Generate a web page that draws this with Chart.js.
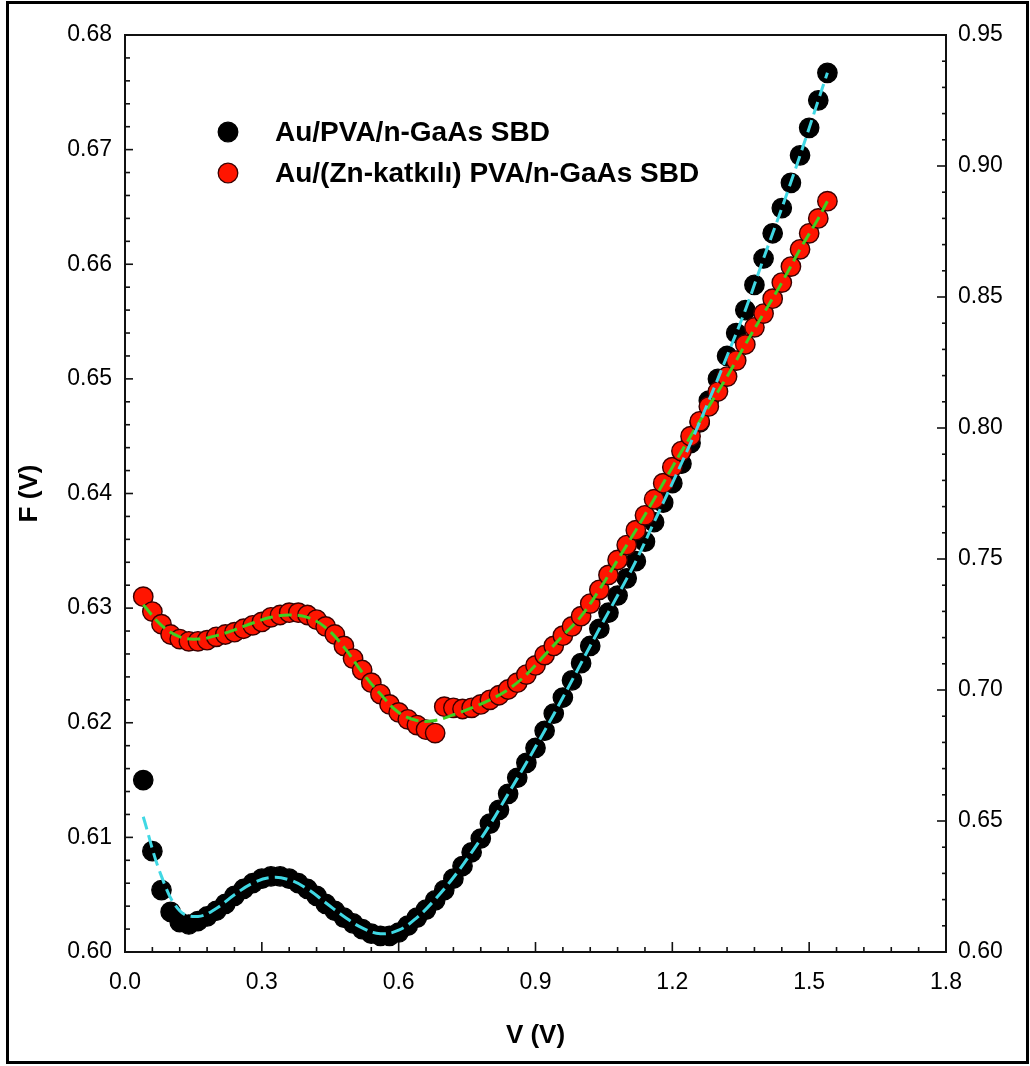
<!DOCTYPE html>
<html>
<head>
<meta charset="utf-8">
<script src="https://cdn.jsdelivr.net/npm/chart.js@4/dist/chart.umd.min.js"></script>
<style>
html,body{margin:0;padding:0;background:#fff;}
#wrap{position:relative;width:1030px;height:1066px;}
#frame{position:absolute;left:6px;top:1px;width:1023px;height:1063px;box-sizing:border-box;border:3px solid #000;pointer-events:none;}
canvas{display:block;}
</style>
</head>
<body>
<div id="wrap">
<canvas id="c" width="1030" height="1066"></canvas>
<div id="frame"></div>
</div>
<script>
// ---- Data ----
const voltage = [0.04,0.06,0.08,0.10,0.12,0.14,0.16,0.18,0.20,0.22,
  0.24,0.26,0.28,0.30,0.32,0.34,0.36,0.38,0.40,0.42,
  0.44,0.46,0.48,0.50,0.52,0.54,0.56,0.58,0.60,0.62,
  0.64,0.66,0.68,0.70,0.72,0.74,0.76,0.78,0.80,0.82,
  0.84,0.86,0.88,0.90,0.92,0.94,0.96,0.98,1.00,1.02,
  1.04,1.06,1.08,1.10,1.12,1.14,1.16,1.18,1.20,1.22,
  1.24,1.26,1.28,1.30,1.32,1.34,1.36,1.38,1.40,1.42,
  1.44,1.46,1.48,1.50,1.52,1.54];

const fPVA = [0.6150,0.6088,0.6054,0.6035,0.6026,0.6024,0.6027,0.6031,0.6036,0.6042,
  0.6049,0.6055,0.6060,0.6064,0.6066,0.6066,0.6064,0.6060,0.6055,0.6049,
  0.6042,0.6036,0.6030,0.6025,0.6020,0.6016,0.6014,0.6014,0.6017,0.6023,
  0.6030,0.6037,0.6045,0.6054,0.6064,0.6075,0.6087,0.6099,0.6112,0.6124,
  0.6138,0.6152,0.6165,0.6178,0.6193,0.6208,0.6222,0.6237,0.6252,0.6267,
  0.6282,0.6296,0.6311,0.6326,0.6341,0.6358,0.6375,0.6392,0.6409,0.6426,
  0.6444,0.6462,0.6481,0.6500,0.6520,0.6540,0.6560,0.6582,0.6605,0.6627,
  0.6649,0.6671,0.6695,0.6719,0.6743,0.6767];

const fZnPVA = [0.6310,0.6297,0.6286,0.6277,0.6273,0.6271,0.6271,0.6272,0.6275,0.6277,
  0.6279,0.6282,0.6285,0.6288,0.6292,0.6294,0.6296,0.6296,0.6294,0.6290,
  0.6284,0.6277,0.6267,0.6256,0.6246,0.6235,0.6225,0.6216,0.6209,0.6203,
  0.6198,0.6194,0.6191,0.6214,0.6213,0.6212,0.6213,0.6216,0.6220,0.6224,
  0.6229,0.6235,0.6242,0.6250,0.6259,0.6267,0.6276,0.6284,0.6293,0.6304,
  0.6316,0.6329,0.6342,0.6355,0.6368,0.6381,0.6395,0.6409,0.6423,0.6437,
  0.6450,0.6463,0.6476,0.6489,0.6502,0.6516,0.6530,0.6545,0.6557,0.6570,
  0.6584,0.6598,0.6613,0.6627,0.6640,0.6655];

const fitVoltage = [0.04,0.08,0.12,0.16,0.20,0.24,0.28,0.32,0.36,0.40,
  0.44,0.48,0.52,0.56,0.60,0.64,0.68,0.72,0.76,0.80,
  0.84,0.88,0.92,0.96,1.00,1.04,1.08,1.12,1.16,1.20,
  1.24,1.28,1.32,1.36,1.40,1.44,1.48,1.52,1.54];

const fitPVA = [0.6118,0.6066,0.6036,0.6031,0.6038,0.6050,0.6060,0.6065,0.6063,0.6055,
  0.6043,0.6031,0.6021,0.6016,0.6019,0.6030,0.6046,0.6065,0.6087,0.6111,
  0.6138,0.6165,0.6193,0.6222,0.6252,0.6282,0.6311,0.6341,0.6375,0.6409,
  0.6444,0.6481,0.6520,0.6560,0.6605,0.6649,0.6695,0.6743,0.6767];

const fitZnPVA = [0.6303,0.6285,0.6275,0.6273,0.6276,0.6281,0.6287,0.6292,0.6294,0.6292,
  0.6283,0.6266,0.6244,0.6225,0.6209,0.6202,0.6202,0.6207,0.6213,0.6220,
  0.6229,0.6242,0.6259,0.6276,0.6293,0.6316,0.6342,0.6368,0.6395,0.6423,
  0.6450,0.6476,0.6502,0.6530,0.6557,0.6584,0.6613,0.6640,0.6655];

const xTicks = [0.0,0.3,0.6,0.9,1.2,1.5,1.8];
const yLeftTicks = [0.60,0.61,0.62,0.63,0.64,0.65,0.66,0.67,0.68];
const yRightTicks = [0.60,0.65,0.70,0.75,0.80,0.85,0.90,0.95];
const seriesNames = ['Au/PVA/n-GaAs SBD','Au/(Zn-katkılı) PVA/n-GaAs SBD'];

// ---- Build ----
const FONT = '"Liberation Sans", Arial, Helvetica, sans-serif';
Chart.defaults.font.family = FONT;
Chart.defaults.color = '#000';

const pts = (xs, ys) => xs.map((v, i) => ({x: v, y: ys[i]}));

const frameTicks = {
  id: 'frameTicks',
  afterDraw(chart) {
    const {ctx, chartArea: a, scales} = chart;
    ctx.save();
    ctx.strokeStyle = '#111';
    ctx.lineWidth = 2;
    ctx.strokeRect(a.left, a.top, a.right - a.left, a.bottom - a.top);
    ctx.lineWidth = 1.6;
    const xs = scales.x;
    for (let i = 0; i <= 30; i++) {
      const px = xs.getPixelForValue(xs.min + i * 0.06);
      const len = (i % 5 === 0) ? 10 : 5;
      ctx.beginPath(); ctx.moveTo(px, a.bottom); ctx.lineTo(px, a.bottom - len); ctx.stroke();
    }
    const yl = scales.y;
    for (let i = 0; i <= 40; i++) {
      const py = yl.getPixelForValue(yl.min + i * 0.002);
      const len = (i % 5 === 0) ? 8 : 5;
      ctx.beginPath(); ctx.moveTo(a.left, py); ctx.lineTo(a.left + len, py); ctx.stroke();
    }
    const yr = scales.y2;
    for (let i = 0; i <= 35; i++) {
      const py = yr.getPixelForValue(yr.min + i * 0.01);
      const len = (i % 5 === 0) ? 9 : 4;
      ctx.beginPath(); ctx.moveTo(a.right, py); ctx.lineTo(a.right - len, py); ctx.stroke();
    }
    // legend
    const items = [
      {name: seriesNames[0], fill: '#000', stroke: '#000', y: a.top + 97},
      {name: seriesNames[1], fill: '#ff1500', stroke: '#3a0000', y: a.top + 138}
    ];
    ctx.font = 'bold 28px ' + FONT;
    ctx.textBaseline = 'middle';
    ctx.textAlign = 'left';
    items.forEach(it => {
      ctx.beginPath();
      ctx.arc(a.left + 103, it.y, 9.8, 0, Math.PI * 2);
      ctx.fillStyle = it.fill; ctx.fill();
      ctx.lineWidth = 1.3; ctx.strokeStyle = it.stroke; ctx.stroke();
      ctx.fillStyle = '#000';
      ctx.fillText(it.name, a.left + 150, it.y + 1);
    });
    ctx.restore();
  }
};

new Chart(document.getElementById('c'), {
  type: 'scatter',
  data: {
    datasets: [
      {
        label: 'fit1', data: pts(fitVoltage, fitPVA), showLine: true, pointRadius: 0,
        borderColor: '#40d8e4', borderWidth: 3, borderDash: [13, 6], tension: 0.4,
        fill: false, order: 0, yAxisID: 'y'
      },
      {
        label: 'fit2', data: pts(fitVoltage, fitZnPVA), showLine: true, pointRadius: 0,
        borderColor: '#3fcf22', borderWidth: 3, borderDash: [13, 6], tension: 0.4,
        fill: false, order: 0, yAxisID: 'y'
      },
      {
        label: seriesNames[1], data: pts(voltage, fZnPVA), pointRadius: 9.7,
        pointBackgroundColor: '#ff1500', pointBorderColor: '#3a0000', pointBorderWidth: 1.4,
        order: 1, yAxisID: 'y'
      },
      {
        label: seriesNames[0], data: pts(voltage, fPVA), pointRadius: 9.7,
        pointBackgroundColor: '#000', pointBorderColor: '#000', pointBorderWidth: 1.3,
        order: 2, yAxisID: 'y'
      }
    ]
  },
  options: {
    responsive: false,
    animation: false,
    devicePixelRatio: 1,
    layout: {padding: {top: 35, left: 0, right: 0, bottom: 0}},
    plugins: {legend: {display: false}, tooltip: {enabled: false}},
    scales: {
      x: {
        type: 'linear', position: 'bottom', min: 0, max: 1.8,
        afterFit: s => { s.height = 114; },
        afterBuildTicks: s => { s.ticks = xTicks.map(v => ({value: v})); },
        grid: {display: false, drawTicks: false}, border: {display: false},
        ticks: {autoSkip: false, maxRotation: 0, padding: 17, font: {size: 23},
          callback: v => Number(v).toFixed(1)},
        title: {display: true, text: 'V (V)', font: {size: 26, weight: 'bold'}, padding: {top: 0, bottom: 15}}
      },
      y: {
        type: 'linear', position: 'left', min: 0.60, max: 0.68,
        afterFit: s => { s.width = 125; },
        afterBuildTicks: s => { s.ticks = yLeftTicks.map(v => ({value: v})); },
        grid: {display: false, drawTicks: false}, border: {display: false},
        ticks: {autoSkip: false, padding: 13, font: {size: 23},
          callback: v => Number(v).toFixed(2)},
        title: {display: true, text: 'F (V)', font: {size: 26, weight: 'bold'}, padding: {top: 14, bottom: 0}}
      },
      y2: {
        type: 'linear', position: 'right', min: 0.60, max: 0.95,
        afterFit: s => { s.width = 84; },
        afterBuildTicks: s => { s.ticks = yRightTicks.map(v => ({value: v})); },
        grid: {display: false, drawTicks: false}, border: {display: false},
        ticks: {autoSkip: false, padding: 12, font: {size: 23},
          callback: v => Number(v).toFixed(2)}
      }
    }
  },
  plugins: [frameTicks]
});
</script>
</body>
</html>
